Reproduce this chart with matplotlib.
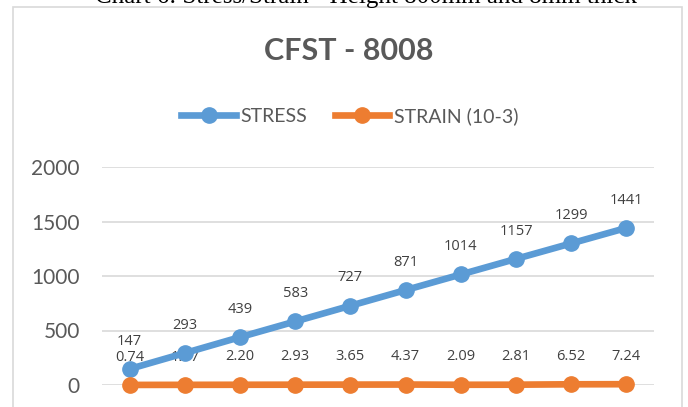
import matplotlib
matplotlib.use("Agg")
import matplotlib.pyplot as plt
from matplotlib.patches import Rectangle
from matplotlib.lines import Line2D

categories = ["1", "2", "3", "4", "5", "6", "7", "8", "9", "10"]
stress = [147, 293, 439, 583, 727, 871, 1014, 1157, 1299, 1441]
strain = [0.74, 1.47, 2.20, 2.93, 3.65, 4.37, 2.09, 2.81, 6.52, 7.24]
stress_labels = ["147", "293", "439", "583", "727", "871", "1014", "1157", "1299", "1441"]
strain_labels = ["0.74", "1.47", "2.20", "2.93", "3.65", "4.37", "2.09", "2.81", "6.52", "7.24"]
yticks = [0, 500, 1000, 1500, 2000]
title = "CFST - 8008"
caption = "Chart 6: Stress/Strain - Height 800mm and 8mm thick"
series_names = ["STRESS", "STRAIN (10-3)"]

BLUE = "#5B9BD5"
ORANGE = "#ED7D31"
GRID = "#D9D9D9"
TXT = "#595959"

W, H = 688, 407
fig = plt.figure(figsize=(W / 100, H / 100), dpi=100)

# chart frame
fig.patches.append(Rectangle((13 / W, -0.05), (682 - 13) / W, (H - 7) / H + 0.05,
                             transform=fig.transFigure, fill=False,
                             edgecolor=GRID, lw=1.2))

# caption above the chart (cut off by the top edge, as in the reference)
fig.text(366 / W, (H - 3) / H, caption, ha="center", va="baseline",
         fontsize=18, family="Liberation Serif", color="#000000")

left, right = 102 / W, 654 / W
bottom, top = (H - 385) / H, (H - 167) / H
ax = fig.add_axes([left, bottom, right - left, top - bottom])

x = list(range(len(categories)))
ax.plot(x, stress, color=BLUE, lw=4.8, marker="o", markersize=11,
        solid_capstyle="round", zorder=4, clip_on=False)
ax.plot(x, strain, color=ORANGE, lw=4.8, marker="o", markersize=11,
        solid_capstyle="round", zorder=4, clip_on=False)

for xi, v, s in zip(x, stress, stress_labels):
    ax.annotate(s, (xi, v), xytext=(0, 20), textcoords="offset points",
                ha="center", va="center", fontsize=10.5, color="#404040",
                family="Open Sans", zorder=2)
for xi, v, s in zip(x, strain, strain_labels):
    ax.annotate(s, (xi, v), xytext=(0, 20), textcoords="offset points",
                ha="center", va="center", fontsize=10.5, color="#404040",
                family="Open Sans", zorder=2)

ax.set_xlim(-0.5, len(categories) - 0.5)
ax.set_ylim(yticks[0], yticks[-1])
ax.set_yticks(yticks)
ax.set_yticklabels([str(t) for t in yticks], fontsize=15, color=TXT, family="Lato")
ax.set_xticks([])
ax.tick_params(axis="y", length=0, pad=16)
ax.grid(axis="y", color=GRID, lw=1.2, zorder=0)
ax.set_axisbelow(True)
for sp in ax.spines.values():
    sp.set_visible(False)

fig.text(349 / W, (H - 51) / H, title, ha="center", va="center",
         fontsize=22, fontweight="bold", color=TXT, family="Lato")

handles = [Line2D([0], [0], color=BLUE, lw=4.8, marker="o", markersize=11),
           Line2D([0], [0], color=ORANGE, lw=4.8, marker="o", markersize=11)]
leg = fig.legend(handles, series_names, loc="center", bbox_to_anchor=(350 / W, (H - 116) / H),
                 ncol=2, frameon=False, handlelength=2.8, handletextpad=0.25,
                 columnspacing=1.4, prop={"family": "Lato", "size": 14})
for t in leg.get_texts():
    t.set_color(TXT)

fig.savefig("out.png", dpi=100)
